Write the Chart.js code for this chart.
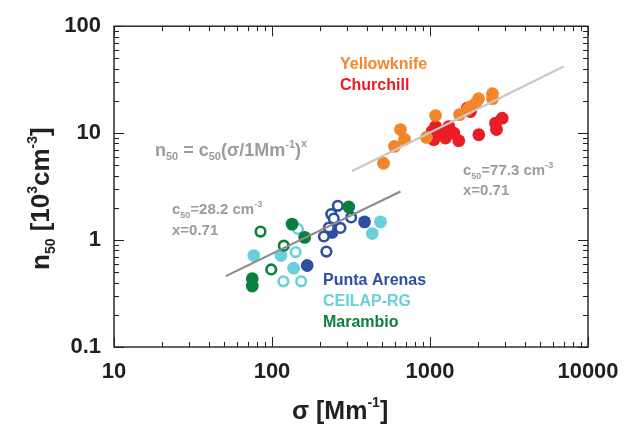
<!DOCTYPE html>
<html>
<head>
<meta charset="utf-8">
<script src="https://cdn.jsdelivr.net/npm/chart.js@4.4.0/dist/chart.umd.min.js"></script>
<style>
  body { margin: 0; background: #fff; }
  #wrap { width: 633px; height: 430px; }
</style>
</head>
<body>
<div id="wrap"><canvas id="chart" width="633" height="430"></canvas></div>
<script>
// tick labels
var xTicks = [10, 100, 1000, 10000];
var yTicks = [0.1, 1, 10, 100];

// Yellowknife (orange, filled)
var yellowknifeX = [508, 596, 650, 690, 950, 1084, 1538, 1727, 1804, 1941, 2028, 2486, 2486];
var yellowknifeY = [5.23, 7.52, 10.8, 8.74, 9.12, 14.6, 14.9, 16.6, 17.7, 18.9, 21.0, 23.4, 21.0];

// Churchill (red, filled)
var churchillX = [1084, 1032, 1057, 1195, 1315, 1348, 1414, 1254, 1521, 2037, 2636, 2600, 2864, 1720, 1804];
var churchillY = [11.5, 10.4, 8.68, 10.4, 11.5, 10.4, 10.0, 8.99, 8.5, 9.66, 10.8, 12.4, 13.8, 17.1, 15.9];

// Punta Arenas (dark blue) - open and filled
var puntaOpenX = [261, 237, 246, 317, 271, 229, 213, 221];
var puntaOpenY = [2.09, 1.75, 1.59, 1.63, 1.30, 1.31, 1.08, 0.78];
var puntaFillX = [240, 249, 385, 167];
var puntaFillY = [1.18, 1.33, 1.48, 0.578];

// CEILAP-RG (light blue) - open and filled
var ceilapOpenX = [146, 141, 118, 153];
var ceilapOpenY = [1.27, 0.772, 0.411, 0.411];
var ceilapFillX = [76.7, 114, 137, 486, 431];
var ceilapFillY = [0.716, 0.716, 0.546, 1.48, 1.15];

// Marambio (green) - open and filled
var marambioOpenX = [84.6, 118.8, 98.9];
var marambioOpenY = [1.2, 0.887, 0.531];
var marambioFillX = [306, 134, 161, 75, 75];
var marambioFillY = [2.04, 1.41, 1.06, 0.435, 0.372];

// fit lines (end points)
var fitNorthX = [320, 7000];
var fitNorthY = [4.4, 42];
var fitSouthX = [51, 650];
var fitSouthY = [0.46, 2.84];

var ORANGE = '#f4862a';
var RED = '#ec1c24';
var DBLUE = '#2d4fa1';
var LBLUE = '#6acfdc';
var GREEN = '#0b7f3c';
var GRAY = '#9b9b9b';
var FONT = '"Liberation Sans", Arial, sans-serif';

function pts(xs, ys) {
    return xs.map(function (x, i) { return { x: x, y: ys[i] }; });
}

function filled(label, xs, ys, color) {
    return {
        label: label, data: pts(xs, ys),
        pointRadius: 6.4, pointBackgroundColor: color,
        pointBorderWidth: 0, showLine: false
    };
}

function open(label, xs, ys, color) {
    return {
        label: label, data: pts(xs, ys),
        pointRadius: 4.8, pointBackgroundColor: '#fff',
        pointBorderColor: color, pointBorderWidth: 2.6, showLine: false
    };
}

function fit(xs, ys, color) {
    return {
        type: 'line', data: pts(xs, ys),
        borderColor: color, borderWidth: 2.2, pointRadius: 0, fill: false
    };
}

// draw text made of pieces (for sub/superscripts)
function rich(ctx, x, y, parts, color) {
    ctx.fillStyle = color;
    ctx.textAlign = 'left';
    ctx.textBaseline = 'alphabetic';
    parts.forEach(function (p) {
        ctx.font = 'bold ' + p[1] + 'px ' + FONT;
        ctx.fillText(p[0], x, y + (p[2] || 0));
        x += ctx.measureText(p[0]).width;
    });
}

var framePlugin = {
    id: 'frame',
    afterDraw: function (chart) {
        var ctx = chart.ctx;
        var a = chart.chartArea;
        var xs = chart.scales.x, ys = chart.scales.y;
        ctx.save();
        ctx.strokeStyle = '#231f20';
        ctx.lineWidth = 1.4;
        ctx.strokeRect(a.left, a.top, a.right - a.left, a.bottom - a.top);

        // inward ticks on all four sides
        ctx.lineWidth = 1;
        ctx.beginPath();
        var d, m, px, len;
        for (d = 10; d < 10000; d *= 10) {
            for (m = 1; m <= 10; m++) {
                px = Math.round(xs.getPixelForValue(d * m)) + 0.5;
                len = (m === 1 || m === 10) ? 10 : 5;
                ctx.moveTo(px, a.bottom); ctx.lineTo(px, a.bottom - len);
                ctx.moveTo(px, a.top); ctx.lineTo(px, a.top + len);
            }
        }
        for (d = 0.1; d < 100; d *= 10) {
            for (m = 1; m <= 10; m++) {
                px = Math.round(ys.getPixelForValue(d * m)) + 0.5;
                len = (m === 1 || m === 10) ? 10 : 5;
                ctx.moveTo(a.left, px); ctx.lineTo(a.left + len, px);
                ctx.moveTo(a.right, px); ctx.lineTo(a.right - len, px);
            }
        }
        ctx.stroke();

        // station labels
        rich(ctx, 340, 69, [['Yellowknife', 16]], ORANGE);
        rich(ctx, 340, 90, [['Churchill', 16]], RED);
        rich(ctx, 323, 285, [['Punta Arenas', 16]], DBLUE);
        rich(ctx, 323, 306, [['CEILAP-RG', 16]], LBLUE);
        rich(ctx, 323, 327, [['Marambio', 16]], GREEN);

        // formula and fit parameters
        rich(ctx, 155, 156, [['n', 18], ['50', 11, 4], [' = c', 18], ['50', 11, 4],
            ['(\u03c3/1Mm', 18], ['-1', 11, -8], [')', 18], ['x', 11, -9]], GRAY);
        rich(ctx, 463, 175, [['c', 15], ['50', 9, 4], ['=77.3 cm', 15], ['-3', 9, -7]], GRAY);
        rich(ctx, 463, 195, [['x=0.71', 15]], GRAY);
        rich(ctx, 172, 214, [['c', 15], ['50', 9, 4], ['=28.2 cm', 15], ['-3', 9, -7]], GRAY);
        rich(ctx, 172, 235, [['x=0.71', 15]], GRAY);

        // axis titles
        rich(ctx, 292, 419, [['\u03c3 [Mm', 25], ['-1', 14, -12], [']', 25]], '#231f20');
        ctx.translate(49, 270);
        ctx.rotate(-Math.PI / 2);
        rich(ctx, 0, 0, [['n', 26], ['50', 14, 6], [' [10', 26], ['3', 14, -12],
            ['cm', 26], ['-3', 14, -12], [']', 26]], '#231f20');
        ctx.restore();
    }
};

var tickFont = { family: FONT, size: 22, weight: 'bold' };

new Chart(document.getElementById('chart'), {
    type: 'scatter',
    data: {
        datasets: [
            fit(fitNorthX, fitNorthY, '#c8c8c8'),
            fit(fitSouthX, fitSouthY, '#8c8c8c'),
            filled('Yellowknife', yellowknifeX, yellowknifeY, ORANGE),
            filled('Churchill', churchillX, churchillY, RED),
            filled('Marambio', marambioFillX, marambioFillY, GREEN),
            open('Marambio', marambioOpenX, marambioOpenY, GREEN),
            filled('CEILAP-RG', ceilapFillX, ceilapFillY, LBLUE),
            open('CEILAP-RG', ceilapOpenX, ceilapOpenY, LBLUE),
            open('Punta Arenas', puntaOpenX, puntaOpenY, DBLUE),
            filled('Punta Arenas', puntaFillX, puntaFillY, DBLUE)
        ]
    },
    options: {
        responsive: false,
        animation: false,
        devicePixelRatio: 1,
        layout: { padding: { left: 0, top: 24, right: 45, bottom: 0 } },
        plugins: { legend: { display: false }, tooltip: { enabled: false } },
        scales: {
            x: {
                type: 'logarithmic', min: 10, max: 10000,
                grid: { display: false, drawTicks: false },
                border: { display: false },
                afterBuildTicks: function (s) { s.ticks = xTicks.map(function (v) { return { value: v }; }); },
                afterFit: function (s) { s.height = 83; },
                ticks: {
                    font: tickFont, color: '#231f20', padding: 12, maxRotation: 0, autoSkip: false,
                    callback: function (v) { return String(v); }
                }
            },
            y: {
                type: 'logarithmic', min: 0.1, max: 100,
                grid: { display: false, drawTicks: false },
                border: { display: false },
                afterBuildTicks: function (s) { s.ticks = yTicks.map(function (v) { return { value: v }; }); },
                afterFit: function (s) { s.width = 114; },
                ticks: {
                    font: tickFont, color: '#231f20', padding: 13, autoSkip: false,
                    callback: function (v) { return String(v); }
                }
            }
        }
    },
    plugins: [framePlugin]
});
</script>
</body>
</html>
